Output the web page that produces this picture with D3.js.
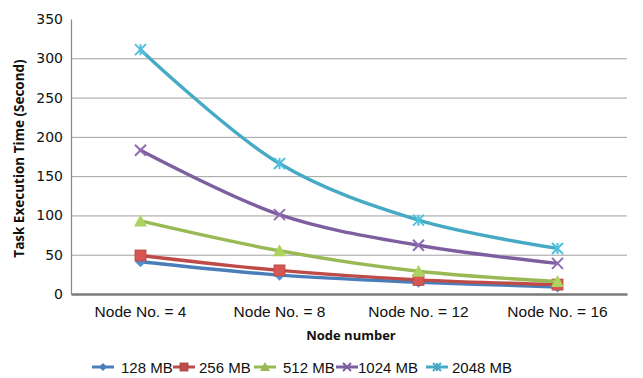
<!DOCTYPE html>
<html><head><meta charset="utf-8">
<script src="https://cdn.jsdelivr.net/npm/d3@7"></script>
<style>body{margin:0;background:#fff}svg{display:block}</style>
</head><body>
<svg id="chart" width="643" height="378"></svg>
<script>
const categories = ["Node No. = 4", "Node No. = 8", "Node No. = 12", "Node No. = 16"];
const seriesNames = ["128 MB", "256 MB", "512 MB", "1024 MB", "2048 MB"];
const v128 = [41, 24, 15, 9];
const v256 = [49, 30, 18, 12];
const v512 = [93, 55, 29, 16];
const v1024 = [183, 101, 62, 39];
const v2048 = [311, 166, 94, 58];
const yTicks = [0, 50, 100, 150, 200, 250, 300, 350];
const colors = ["#4A7EBB", "#BE4B48", "#98B954", "#7D5FA0", "#46AAC5"];
const markers = ["diamond", "square", "triangle", "cross", "asterisk"];

const series = [v128, v256, v512, v1024, v2048].map((vals, i) => ({
  name: seriesNames[i], values: vals, color: colors[i], marker: markers[i]
}));

const svg = d3.select("#chart");
const m = {left: 71, right: 627, top: 19, bottom: 294};
const x = d3.scaleBand().domain(categories).range([m.left, m.right]);
const y = d3.scaleLinear().domain([0, 350]).range([m.bottom, m.top]);
const font = "'Liberation Sans', Arial, sans-serif";
const tickFont = "'DejaVu Sans', Verdana, sans-serif";

// horizontal gridlines
svg.append("g").selectAll("line").data(yTicks.filter(t => t > 0 && t < 350)).join("line")
  .attr("x1", m.left).attr("x2", m.right)
  .attr("y1", d => y(d) + 0.5).attr("y2", d => y(d) + 0.5)
  .attr("stroke", "#a0a0a0").attr("stroke-width", 1);

// y axis
const yAxis = svg.append("g").attr("transform", `translate(${m.left},0)`)
  .call(d3.axisLeft(y).tickValues(yTicks).tickSize(0).tickPadding(8));
yAxis.select(".domain").attr("stroke", "#888").attr("stroke-width", 1.2);
yAxis.selectAll("text").attr("font-family", tickFont).attr("font-size", 14).attr("fill", "#111");

// x axis
const xAxis = svg.append("g").attr("transform", `translate(0,${m.bottom})`)
  .call(d3.axisBottom(x).tickSize(0).tickPadding(12));
xAxis.select(".domain").attr("stroke", "#7a7a7a").attr("stroke-width", 2.5);
xAxis.selectAll("text").attr("font-family", font).attr("font-size", 15.5).attr("fill", "#111");

// axis titles
svg.append("text").attr("transform", `translate(24,${(m.top + m.bottom) / 2 + 2}) rotate(-90)`)
  .attr("text-anchor", "middle").attr("font-family", "'Open Sans', 'DejaVu Sans', sans-serif")
  .attr("font-weight", "bold").attr("font-size", 13.5).attr("fill", "#111")
  .text("Task Execution Time (Second)");
svg.append("text").attr("x", (m.left + m.right) / 2 + 2).attr("y", 340)
  .attr("text-anchor", "middle").attr("font-family", "'Open Sans', 'DejaVu Sans', sans-serif")
  .attr("font-weight", "bold").attr("font-size", 13).attr("fill", "#111")
  .text("Node number");

const cx = c => x(c) + x.bandwidth() / 2;
const line = d3.line().x((d, i) => cx(categories[i])).y(d => y(d)).curve(d3.curveCatmullRom.alpha(0.5));

function drawMarker(g, type, color, size) {
  const s = size;
  if (type === "diamond") {
    g.append("path").attr("d", `M0,${-s}L${s},0L0,${s}L${-s},0Z`).attr("fill", color);
  } else if (type === "square") {
    g.append("rect").attr("x", -s).attr("y", -s).attr("width", 2 * s).attr("height", 2 * s)
      .attr("fill", color).attr("stroke", d3.color(color).darker(0.5)).attr("stroke-width", 0.8);
  } else if (type === "triangle") {
    g.append("path").attr("d", `M0,${-s - 1}L${s + 1},${s}L${-s - 1},${s}Z`).attr("fill", color);
  } else if (type === "cross") {
    g.append("path").attr("d", `M${-s},${-s}L${s},${s}M${s},${-s}L${-s},${s}`)
      .attr("stroke", color).attr("stroke-width", 2);
  } else {
    g.append("path").attr("d", `M${-s},${-s}L${s},${s}M${s},${-s}L${-s},${s}M0,${-s}L0,${s}`)
      .attr("stroke", color).attr("stroke-width", 2);
  }
}

const plot = svg.append("g");
series.forEach(s => {
  plot.append("path").datum(s.values).attr("d", line)
    .attr("fill", "none").attr("stroke", s.color).attr("stroke-width", 3.4)
    .attr("stroke-linejoin", "round").attr("stroke-linecap", "round");
  s.values.forEach((v, i) => {
    const g = plot.append("g").attr("transform", `translate(${cx(categories[i])},${y(v)})`);
    const c = d3.color(s.color).brighter(0.35).formatHex();
    drawMarker(g, s.marker, c, 5.5);
  });
});

// legend
const itemX = [92, 173, 254, 336, 426];
const textX = [121, 199, 283, 358, 452];
const lg = svg.append("g").attr("transform", "translate(0,367)");
series.forEach((s, i) => {
  lg.append("line").attr("x1", itemX[i]).attr("x2", itemX[i] + 22).attr("y1", 0).attr("y2", 0)
    .attr("stroke", s.color).attr("stroke-width", 3);
  const mg = lg.append("g").attr("transform", `translate(${itemX[i] + 11},0)`);
  drawMarker(mg, s.marker, s.color, 4);
  lg.append("text").attr("x", textX[i]).attr("y", 5.5)
    .attr("font-family", font).attr("font-size", 15).attr("fill", "#111").text(s.name);
});
</script>
</body></html>
